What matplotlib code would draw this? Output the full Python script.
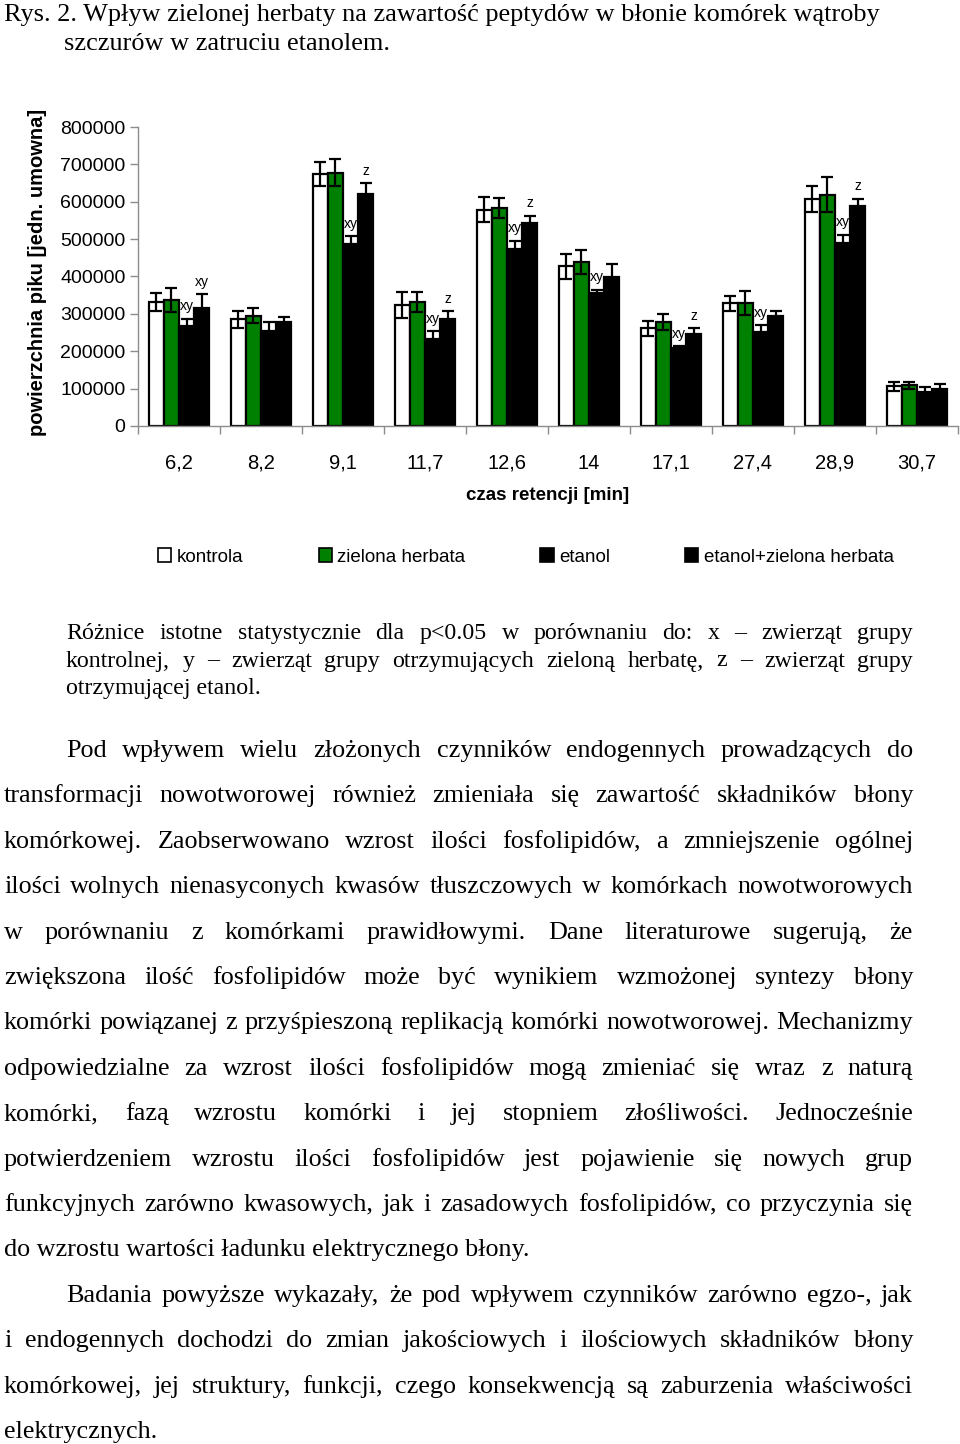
import numpy as np
import matplotlib
matplotlib.use("Agg")
import matplotlib.pyplot as plt
from matplotlib.patches import Patch

W, H = 960, 1444
SANS = "Liberation Sans"
SERIF = "Liberation Serif"

# ---- dane ----
czas = ["6,2", "8,2", "9,1", "11,7", "12,6", "14", "17,1", "27,4", "28,9", "30,7"]
kontrola = [332000, 286000, 674000, 323000, 579000, 427000, 262000, 328000, 608000, 106000]
kontrola_err = [23000, 23000, 33000, 35000, 33000, 33000, 20000, 20000, 35000, 12000]
zielona = [337000, 295000, 678000, 332000, 584000, 439000, 279000, 328000, 619000, 109000]
zielona_err = [33000, 20000, 37000, 27000, 27000, 31000, 21000, 32000, 47000, 9000]
etanol = [267000, 255000, 486000, 234000, 473000, 356000, 208000, 252000, 490000, 90000]
etanol_err = [20000, 23000, 22000, 20000, 23000, 9000, 5000, 18000, 22000, 15000]
etanol_zh = [316000, 279000, 621000, 287000, 543000, 398000, 246000, 295000, 588000, 98000]
etanol_zh_err = [37000, 12000, 28000, 20000, 19000, 36000, 15000, 12000, 20000, 15000]
znak_etanol = ["xy", "", "xy", "xy", "xy", "xy", "xy", "xy", "xy", ""]
znak_etanol_zh = ["xy", "", "z", "z", "z", "", "z", "", "z", ""]

serie = ["kontrola", "zielona herbata", "etanol", "etanol+zielona herbata"]
kolory = ["white", "#008000", "black", "black"]

tytul = [
    "Rys. 2. Wpływ zielonej herbaty na zawartość peptydów w błonie komórek wątroby",
    "szczurów w zatruciu etanolem.",
]
przypis = [
    "Różnice istotne statystycznie dla p<0.05 w porównaniu do: x – zwierząt grupy",
    "kontrolnej, y – zwierząt grupy otrzymujących zieloną herbatę, z – zwierząt grupy",
    "otrzymującej etanol.",
]
akapit1 = [
    "Pod wpływem wielu złożonych czynników endogennych prowadzących do",
    "transformacji nowotworowej również zmieniała się zawartość składników błony",
    "komórkowej. Zaobserwowano wzrost ilości fosfolipidów, a zmniejszenie ogólnej",
    "ilości wolnych nienasyconych kwasów tłuszczowych w komórkach nowotworowych",
    "w porównaniu z komórkami prawidłowymi. Dane literaturowe sugerują, że",
    "zwiększona ilość fosfolipidów może być wynikiem wzmożonej syntezy błony",
    "komórki powiązanej z przyśpieszoną replikacją komórki nowotworowej. Mechanizmy",
    "odpowiedzialne za wzrost ilości fosfolipidów mogą zmieniać się wraz z naturą",
    "komórki, fazą wzrostu komórki i jej stopniem złośliwości. Jednocześnie",
    "potwierdzeniem wzrostu ilości fosfolipidów jest pojawienie się nowych grup",
    "funkcyjnych zarówno kwasowych, jak i zasadowych fosfolipidów, co przyczynia się",
    "do wzrostu wartości ładunku elektrycznego błony.",
]
akapit2 = [
    "Badania powyższe wykazały, że pod wpływem czynników zarówno egzo-, jak",
    "i endogennych dochodzi do zmian jakościowych i ilościowych składników błony",
    "komórkowej, jej struktury, funkcji, czego konsekwencją są zaburzenia właściwości",
    "elektrycznych.",
]

fig = plt.figure(figsize=(W / 100, H / 100), dpi=100)

# ---- wykres ----
ax = fig.add_axes([138 / W, 1 - 426 / H, 820 / W, 299 / H])
x = np.arange(len(czas))
w = 0.185
dane = [kontrola, zielona, etanol, etanol_zh]
bledy = [kontrola_err, zielona_err, etanol_err, etanol_zh_err]
for k, (vals, err, kol) in enumerate(zip(dane, bledy, kolory)):
    pos = x + (k - 1.5) * w
    ax.bar(pos, vals, width=w, color=kol, edgecolor="black", linewidth=1.6, zorder=2)
    ax.errorbar(pos, vals, yerr=err, fmt="none", ecolor="black",
                elinewidth=1.6, capsize=4.5, capthick=1.6, zorder=3)

for k, (vals, err, znaki) in enumerate([(etanol, etanol_err, znak_etanol),
                                          (etanol_zh, etanol_zh_err, znak_etanol_zh)]):
    for i, z in enumerate(znaki):
        if z:
            ax.annotate(z, (x[i] + (k + 0.5) * w, vals[i] + err[i]),
                        xytext=(0, 4), textcoords="offset points",
                        ha="center", va="bottom", fontsize=10, family=SANS, zorder=4)

ax.set_xlim(-0.5, len(czas) - 0.5)
ax.set_ylim(0, 800000)
ax.set_yticks(np.arange(0, 800001, 100000))
ax.set_yticklabels([str(v) for v in range(0, 800001, 100000)], fontsize=14, family=SANS)
ax.set_xticks(x)
ax.set_xticklabels(czas, fontsize=14.5, family=SANS)
ax.set_xticks(np.arange(-0.5, len(czas)), minor=True)
ax.tick_params(axis="x", which="major", length=0, pad=20)
ax.tick_params(axis="x", which="minor", length=6, color="#8c8c8c", width=1)
ax.tick_params(axis="y", length=6, color="#8c8c8c", width=1, pad=3)
for s in ["top", "right"]:
    ax.spines[s].set_visible(False)
for s in ["left", "bottom"]:
    ax.spines[s].set_color("#8c8c8c")
    ax.spines[s].set_linewidth(1)

ax.set_ylabel("powierzchnia piku [jedn. umowna]", fontsize=14.5, family=SANS, fontweight="bold")
ax.yaxis.set_label_coords((47 - 138) / 820, 0.513)
ax.set_xlabel("czas retencji [min]", fontsize=13.5, family=SANS, fontweight="bold")
ax.xaxis.set_label_coords(0.5, (426 - 487) / 299)

uchwyty = [Patch(facecolor=c, edgecolor="black", linewidth=1.2) for c in kolory]
fig.legend(uchwyty, serie, loc="center", bbox_to_anchor=(526 / W, 1 - 557 / H),
           ncol=4, frameon=False, prop={"family": SANS, "size": 13.5},
           handlelength=0.7, handleheight=0.7, handletextpad=0.3, columnspacing=4.0)

# ---- tekst strony ----
renderer = fig.canvas.get_renderer()


def linia(tekst, x0, x1, baza, rozmiar, wyjustuj=True):
    if not wyjustuj:
        fig.text(x0 / W, 1 - baza / H, tekst, fontsize=rozmiar, family=SERIF, va="baseline")
        return
    slowa = tekst.split()
    obiekty = [fig.text(0, 1 - baza / H, s, fontsize=rozmiar, family=SERIF, va="baseline")
               for s in slowa]
    szer = [t.get_window_extent(renderer).width for t in obiekty]
    odstep = (x1 - x0 - sum(szer)) / (len(slowa) - 1)
    pos = x0
    for t, sz in zip(obiekty, szer):
        t.set_x(pos / W)
        pos += sz + odstep


linia(tytul[0], 4, 878, 21, 18.9, False)
linia(tytul[1], 64, 878, 50, 18.9, False)

for i, t in enumerate(przypis):
    linia(t, 66, 913, 639 + i * 27.5, 17.2, i < len(przypis) - 1)

baza = 757
for akapit in [akapit1, akapit2]:
    for i, t in enumerate(akapit):
        x0 = 66 if i == 0 else 4
        linia(t, x0, 913, baza, 18.8, i < len(akapit) - 1)
        baza += 45.4

fig.savefig("out.png", dpi=100)
